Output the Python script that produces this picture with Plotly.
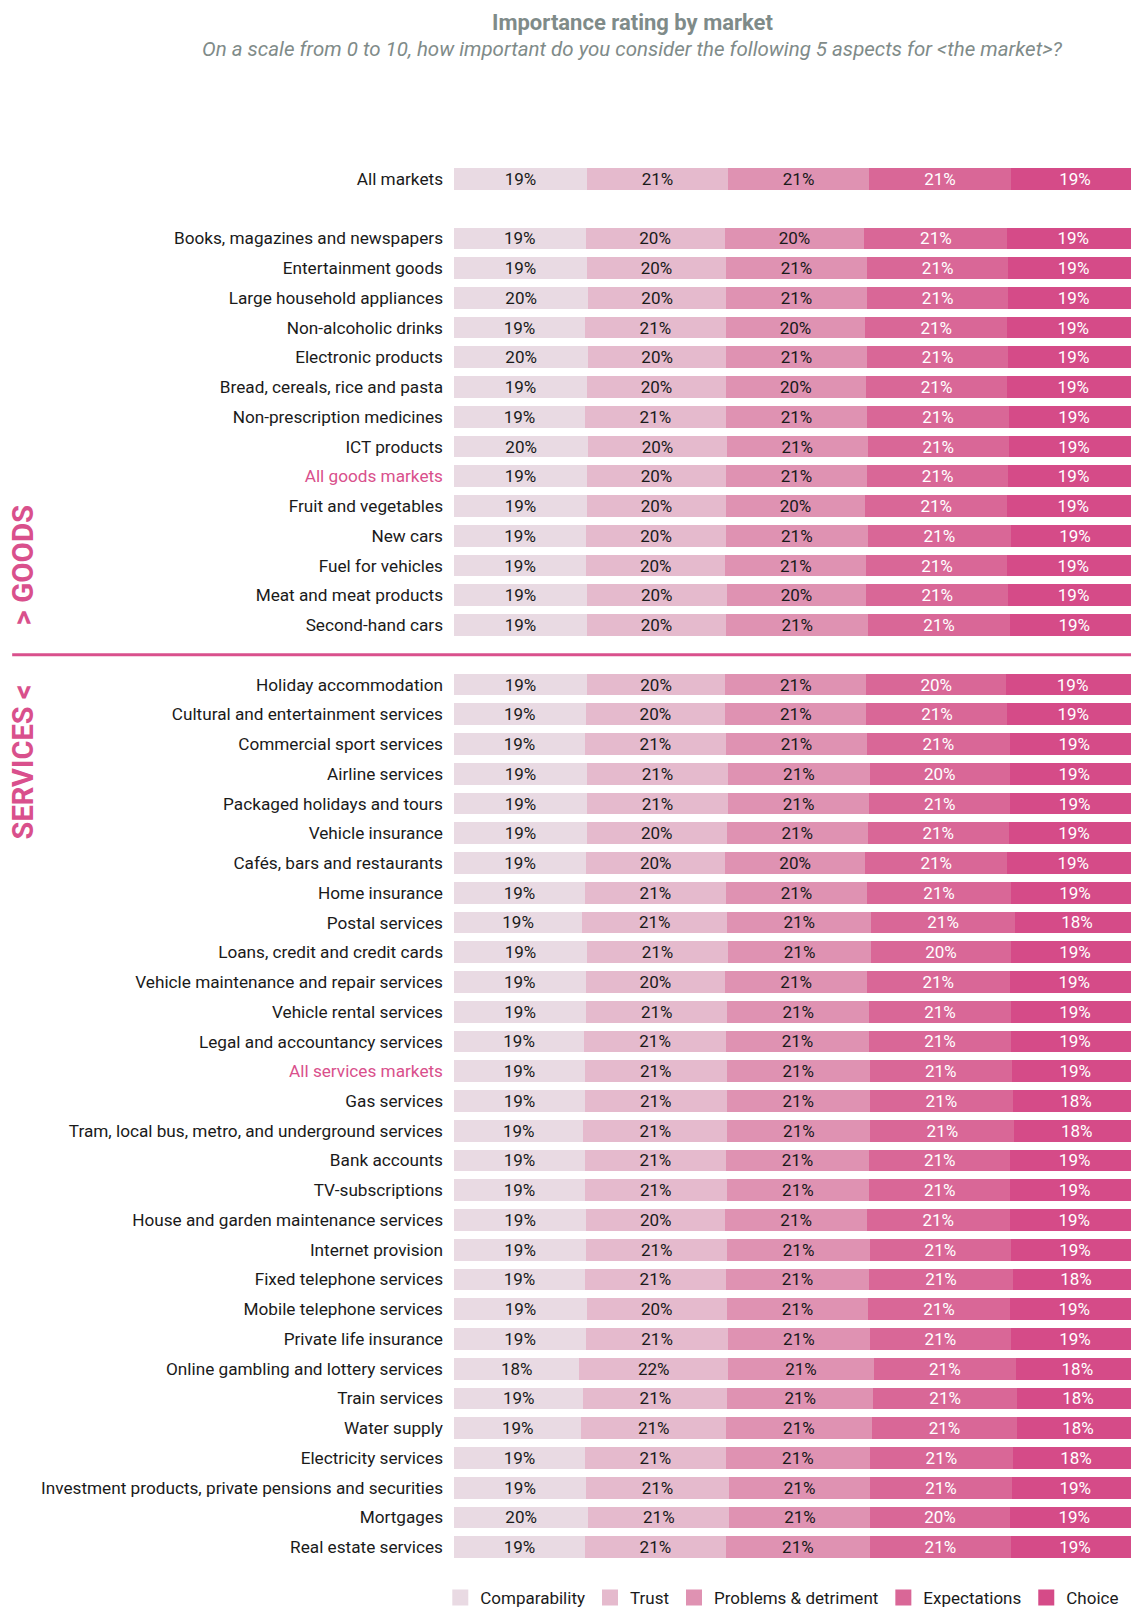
import plotly.graph_objects as go

aspects = ["Comparability", "Trust", "Problems & detriment", "Expectations", "Choice"]

markets = [
    "All markets",
    "Books, magazines and newspapers",
    "Entertainment goods",
    "Large household appliances",
    "Non-alcoholic drinks",
    "Electronic products",
    "Bread, cereals, rice and pasta",
    "Non-prescription medicines",
    "ICT products",
    "All goods markets",
    "Fruit and vegetables",
    "New cars",
    "Fuel for vehicles",
    "Meat and meat products",
    "Second-hand cars",
    "Holiday accommodation",
    "Cultural and entertainment services",
    "Commercial sport services",
    "Airline services",
    "Packaged holidays and tours",
    "Vehicle insurance",
    "Cafés, bars and restaurants",
    "Home insurance",
    "Postal services",
    "Loans, credit and credit cards",
    "Vehicle maintenance and repair services",
    "Vehicle rental services",
    "Legal and accountancy services",
    "All services markets",
    "Gas services",
    "Tram, local bus, metro, and underground services",
    "Bank accounts",
    "TV-subscriptions",
    "House and garden maintenance services",
    "Internet provision",
    "Fixed telephone services",
    "Mobile telephone services",
    "Private life insurance",
    "Online gambling and lottery services",
    "Train services",
    "Water supply",
    "Electricity services",
    "Investment products, private pensions and securities",
    "Mortgages",
    "Real estate services",
]

# share of importance (%) per aspect, same order as markets
comparability = [19.4, 19.2, 19.4, 19.6, 19.1, 19.6, 19.4, 19.1, 19.6, 19.4, 19.4, 19.3, 19.3, 19.4, 19.4,
                 19.4, 19.2, 19.1, 19.4, 19.4, 19.4, 19.3, 19.1, 18.7, 19.4, 19.2, 19.3, 19.0, 19.1, 19.1,
                 18.9, 19.1, 19.1, 19.3, 19.3, 19.1, 19.4, 19.3, 18.3, 18.9, 18.6, 19.1, 19.3, 19.6, 19.1]
trust = [20.6, 20.3, 20.3, 20.1, 20.6, 20.1, 20.3, 20.6, 20.2, 20.3, 20.3, 20.4, 20.3, 20.4, 20.3,
         20.2, 20.4, 20.6, 20.6, 20.6, 20.4, 20.3, 20.6, 21.2, 20.6, 20.4, 20.6, 20.7, 20.7, 20.7,
         21.0, 20.6, 20.7, 20.3, 20.6, 20.6, 20.4, 20.7, 21.7, 21.0, 21.1, 20.6, 20.8, 20.6, 20.6]
problems = [20.6, 20.4, 20.6, 20.6, 20.3, 20.6, 20.4, 20.6, 20.6, 20.6, 20.3, 20.7, 20.6, 20.4, 20.8,
            20.6, 20.6, 20.6, 20.7, 20.6, 20.6, 20.4, 20.6, 21.0, 20.9, 20.7, 20.7, 20.9, 20.9, 20.9,
            20.9, 20.9, 20.8, 20.7, 20.8, 20.9, 20.7, 20.7, 21.3, 21.3, 21.3, 21.0, 20.7, 20.6, 21.0]
expectations = [20.7, 20.9, 20.6, 20.6, 20.8, 20.6, 20.7, 20.7, 20.6, 20.6, 20.8, 20.9, 20.6, 20.7, 20.6,
                20.4, 20.6, 20.8, 20.4, 20.6, 20.6, 20.8, 21.0, 21.0, 20.4, 20.8, 20.7, 20.7, 20.7, 20.9,
                21.0, 20.6, 20.6, 20.8, 20.6, 21.0, 20.6, 20.6, 20.7, 21.0, 21.2, 20.9, 20.6, 20.3, 20.6]
choice = [18.7, 19.2, 19.1, 19.1, 19.2, 19.1, 19.2, 19.0, 19.0, 19.1, 19.2, 18.7, 19.2, 19.1, 18.9,
          19.4, 19.2, 18.9, 18.9, 18.8, 19.0, 19.2, 18.7, 18.1, 18.7, 18.9, 18.7, 18.7, 18.6, 18.4,
          18.2, 18.8, 18.8, 18.9, 18.7, 18.4, 18.9, 18.7, 18.0, 17.8, 17.8, 18.4, 18.6, 18.9, 18.7]

series = [comparability, trust, problems, expectations, choice]
colors = ["#e9dae3", "#e5bacd", "#df92b2", "#d96797", "#d54b88"]
text_colors = ["#1a1a1a", "#1a1a1a", "#1a1a1a", "#ffffff", "#ffffff"]
highlight = ["All goods markets", "All services markets"]
pink = "#d9508c"
grey = "#7f8b89"

# row layout with blank spacer rows
gap1, gap2 = " ", "  "
rows = [markets[0], gap1] + markets[1:15] + [gap2] + markets[15:]


def spread(vals):
    lookup = dict(zip(markets, vals))
    return [lookup.get(r) for r in rows]


fig = go.Figure()
for name, vals, col, tcol in zip(aspects, series, colors, text_colors):
    fig.add_trace(go.Bar(
        y=rows, x=spread(vals), name=name, orientation="h", showlegend=False,
        marker=dict(color=col, line=dict(width=0)),
        texttemplate="%{x:.0f}%", textposition="inside", insidetextanchor="middle",
        textangle=0, constraintext="none",
        textfont=dict(color=tcol, size=17, family="Roboto"),
        hoverinfo="skip",
    ))

# legend entries with bigger square swatches
for name, col in zip(aspects, colors):
    fig.add_trace(go.Scatter(
        x=[None], y=[None], mode="markers", name=name,
        marker=dict(symbol="square", size=16, color=col, line=dict(width=0)),
    ))

ticktext = []
for r in rows:
    if r in highlight:
        ticktext.append(f"<span style='color:{pink}'>{r}</span>")
    elif r.strip() == "":
        ticktext.append("")
    else:
        ticktext.append(r)

sep = rows.index(gap2)

# page body has an 8px margin, so the figure is a bit smaller than the window
W, H = 1131, 1600
fig.update_layout(
    width=W, height=H,
    barmode="stack", bargap=0.27,
    plot_bgcolor="white", paper_bgcolor="white",
    font=dict(family="Roboto", size=16, color="#1a1a1a"),
    margin=dict(l=446, r=0, t=156, b=H - 1554, autoexpand=False),
    showlegend=True,
    legend=dict(orientation="h", x=-0.02, xanchor="left", y=-0.0258, yanchor="middle",
                font=dict(size=17, color="#1a1a1a"), traceorder="normal",
                itemwidth=30, itemsizing="trace"),
    xaxis=dict(range=[0, 100], visible=False, fixedrange=True),
    yaxis=dict(type="category", categoryorder="array", categoryarray=rows,
               autorange="reversed", tickvals=rows, ticktext=ticktext,
               showgrid=False, zeroline=False, showline=False, ticks="",
               automargin=False,
               ticklabelstandoff=10, tickfont=dict(size=17.2, color="#1a1a1a")),
    shapes=[dict(type="line", xref="paper", yref="y", x0=-0.645, x1=1, y0=sep, y1=sep,
                 line=dict(color=pink, width=3))],
    annotations=[
        dict(text="Importance rating by market", xref="paper", yref="paper",
             x=0.2613, y=1, yshift=142, xanchor="center", yanchor="middle", showarrow=False,
             font=dict(size=22, color=grey, family="Roboto", weight="bold")),
        dict(text="<i>On a scale from 0 to 10, how important do you consider the following 5 aspects for &lt;the market&gt;?</i>",
             xref="paper", yref="paper", x=0.2613, y=1, yshift=115.5,
             xanchor="center", yanchor="middle", showarrow=False,
             font=dict(size=20.5, color=grey, family="Roboto")),
        dict(text="<b>&gt; GOODS</b>", xref="paper", yref="y", x=-0.629, y=sep,
             xanchor="center", yanchor="bottom", yshift=27, textangle=-90, showarrow=False,
             font=dict(size=29.5, color=pink, family="Roboto")),
        dict(text="<b>SERVICES &lt;</b>", xref="paper", yref="y", x=-0.629, y=sep,
             xanchor="center", yanchor="top", yshift=-28, textangle=-90, showarrow=False,
             font=dict(size=29, color=pink, family="Roboto")),
    ],
)

fig.write_html("out.html")
